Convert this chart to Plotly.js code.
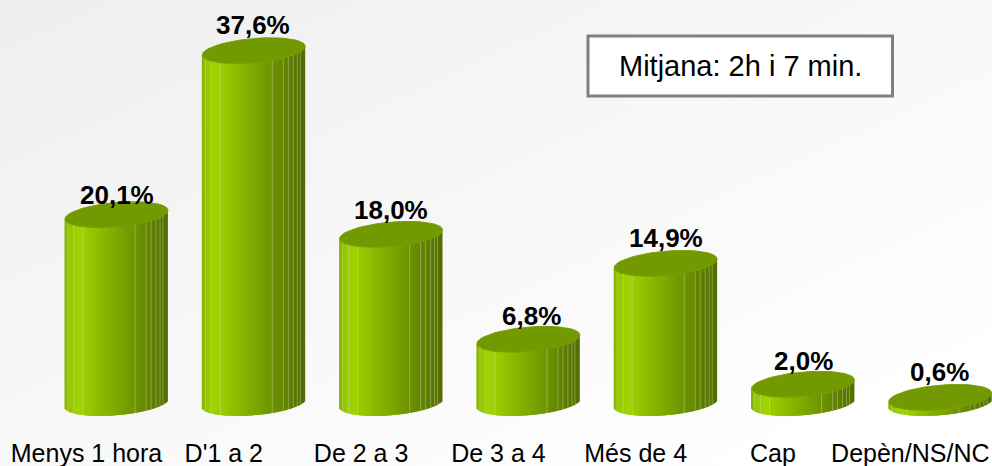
<!DOCTYPE html>
<html><head><meta charset="utf-8">
<script src="https://cdn.plot.ly/plotly-3.0.1.min.js"></script>
<style>html,body{margin:0;padding:0;width:992px;height:466px;overflow:hidden;background:linear-gradient(155deg,#eeeeee 0%,#f6f6f6 40%,#ffffff 90%);}#c{width:992px;height:466px}</style>
</head><body><div id="c"></div>
<script>
const categories=["Menys 1 hora","D'1 a 2","De 2 a 3","De 3 a 4","Més de 4","Cap","Depèn/NS/NC"];
const values=[20.1,37.6,18.0,6.8,14.9,2.0,0.6];
const valueLabels=["20,1%","37,6%","18,0%","6,8%","14,9%","2,0%","0,6%"];
const labelLift=[20,26,25,24,26,24,26];
const labelNudge=[0,-1,0,3,0,0,-1];
const note="Mitjana: 2h i 7 min.";

// Page geometry
const W=992,H=466,marginB=30,plotH=H-marginB;
const catPx=86.5,stepPx=137.3,barOffsetPx=30,pxPerUnit=9.37,zeroPx=403;
const halfW=51.5,halfH=12.2,shear=4.3;
const xRange=[-catPx/stepPx,(W-catPx)/stepPx];
const yRange=[(zeroPx-plotH)/pxPerUnit,zeroPx/pxPerUnit];
const off=barOffsetPx/stepPx;
const FONT="Liberation Sans, Arial, sans-serif";

// Cylinder shading
const stops=[[0,[132,178,0]],[0.05,[150,200,0]],[0.14,[160,212,0]],[0.4,[135,180,0]],[0.7,[108,146,0]],[1,[82,108,0]]];
const seams=[3,9,18,70,81,86,91,95,98];
function shade(f){
  for(let k=1;k<stops.length;k++){
    if(f<=stops[k][0]){
      const a=stops[k-1],b=stops[k],t=(f-a[0])/(b[0]-a[0]);
      return a[1].map((c,j)=>c+(b[1][j]-c)*t);
    }
  }
  return stops[stops.length-1][1];
}
const stripW=2.4;
const bx=[],by=[],bb=[],bc=[];
values.forEach((v,i)=>{
  const c=i+off;
  const n=Math.round(2*halfW-1);
  for(let p=0;p<n;p++){
    const dx=p+0.5-halfW,r=dx/halfW;
    const low=(-shear*r+halfH*Math.sqrt(1-r*r))/pxPerUnit;
    const top=v+(shear*r)/pxPerUnit;
    bx.push(c+(dx+stripW/2-1)/stepPx);
    bb.push(-low);
    by.push(top+low);
    let col=shade((p+0.5)/(2*halfW));
    if(seams.includes(p)) col=[col[0]+(200-col[0])*0.4,col[1]+(225-col[1])*0.4,70];
    bc.push(`rgb(${col.map(Math.round).join(",")})`);
  }
});
const traces=[{type:"bar",x:bx,y:by,base:bb,width:stripW/stepPx,
  marker:{color:bc,line:{width:0}},hoverinfo:"skip",showlegend:false}];
values.forEach((v,i)=>{
  const xs=[],ys=[];
  for(let d=0;d<=360;d+=6){
    const t=d*Math.PI/180;
    xs.push(i+off+halfW*Math.cos(t)/stepPx);
    ys.push(v+(shear*Math.cos(t)+halfH*Math.sin(t))/pxPerUnit);
  }
  traces.push({type:"scatter",mode:"lines",x:xs,y:ys,fill:"toself",fillcolor:"#729900",
    line:{color:"#7a9f08",width:1},hoverinfo:"skip",showlegend:false});
});
const annotations=values.map((v,i)=>({x:i+off,y:v,xref:"x",yref:"y",yshift:labelLift[i]-0.5,xshift:labelNudge[i],
  text:"<b>"+valueLabels[i]+"</b>",showarrow:false,xanchor:"center",yanchor:"middle",
  font:{family:FONT,size:26,color:"#000"}}));
annotations.push({x:740/W,y:1-66/plotH,xref:"paper",yref:"paper",text:note,showarrow:false,
  xanchor:"center",yanchor:"middle",font:{family:FONT,size:29,color:"#000"}});
const layout={width:W,height:H,margin:{l:0,r:0,t:0,b:marginB,pad:0},
  paper_bgcolor:"rgba(0,0,0,0)",plot_bgcolor:"rgba(0,0,0,0)",barmode:"overlay",showlegend:false,
  xaxis:{range:xRange,tickmode:"array",tickvals:categories.map((_,i)=>i),ticktext:categories,
    showgrid:false,zeroline:false,showline:false,ticks:"",tickangle:0,automargin:false,
    tickfont:{family:FONT,size:25,color:"#000"}},
  yaxis:{range:yRange,visible:false,showgrid:false,zeroline:false},
  shapes:[{type:"rect",xref:"paper",yref:"paper",x0:588/W,x1:892.5/W,y0:1-96/plotH,y1:1-36/plotH,
    line:{color:"#808080",width:3},fillcolor:"#ffffff",layer:"below"}],
  annotations};
Plotly.newPlot("c",traces,layout,{displayModeBar:false,staticPlot:true});
</script></body></html>
